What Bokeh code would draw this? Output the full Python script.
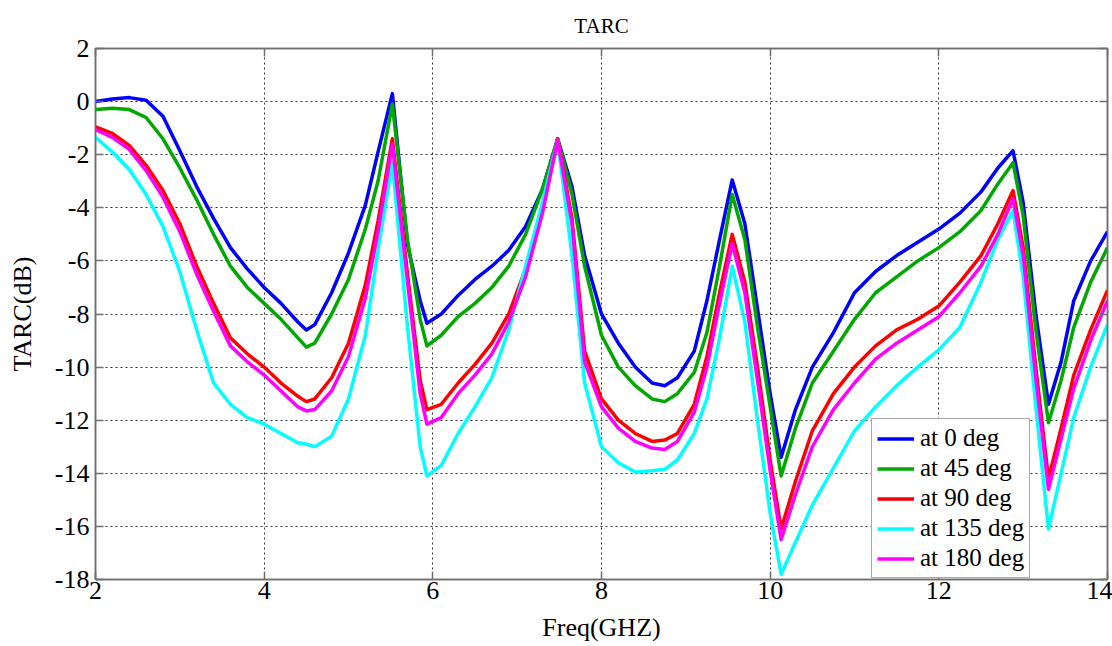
from bokeh.plotting import figure
from bokeh.models import Range1d, FixedTicker, LinearAxis, Legend, LegendItem, CustomJSTickFormatter
from bokeh.embed import file_html
from bokeh.resources import INLINE

freq = [2.0, 2.2, 2.4, 2.6, 2.8, 3.0, 3.2, 3.4, 3.6, 3.8, 4.0, 4.2, 4.4, 4.5, 4.6, 4.8, 5.0, 5.2, 5.35, 5.52,
        5.7, 5.85, 5.93, 6.1, 6.3, 6.5, 6.7, 6.9, 7.1, 7.3, 7.48, 7.65, 7.8, 8.0, 8.2, 8.4, 8.6, 8.75, 8.9, 9.1,
        9.25, 9.4, 9.55, 9.7, 9.85, 10.0, 10.13, 10.3, 10.5, 10.75, 11.0, 11.25, 11.5, 11.75, 12.0, 12.25, 12.5,
        12.7, 12.88, 13.0, 13.15, 13.3, 13.45, 13.6, 13.8, 14.0]

tarc_0 = [0.0, 0.1, 0.15, 0.05, -0.55, -1.85, -3.2, -4.4, -5.5, -6.3, -7.0, -7.6, -8.3, -8.6, -8.4, -7.2, -5.7, -3.9, -1.9, 0.3,
          -5.4, -7.5, -8.35, -8.0, -7.3, -6.7, -6.2, -5.6, -4.7, -3.3, -1.4, -3.2, -5.8, -8.0, -9.1, -10.0, -10.6, -10.7, -10.4, -9.4,
          -7.5, -5.2, -2.95, -4.6, -7.8, -11.0, -13.4, -11.6, -10.0, -8.7, -7.2, -6.4, -5.8, -5.3, -4.8, -4.2, -3.4,
          -2.5, -1.85, -3.8, -8.0, -11.4, -9.8, -7.5, -6.0, -4.9]

tarc_45 = [-0.3, -0.25, -0.3, -0.6, -1.4, -2.5, -3.7, -5.0, -6.2, -7.0, -7.6, -8.2, -8.9, -9.25, -9.1, -8.0, -6.7, -4.8, -3.0, -0.1,
           -5.2, -8.2, -9.2, -8.8, -8.1, -7.6, -7.0, -6.2, -5.0, -3.3, -1.4, -3.5, -6.2, -8.8, -10.0, -10.7, -11.2, -11.3, -11.0, -10.2,
           -8.7, -6.2, -3.5, -5.2, -8.5, -11.5, -14.1, -12.3, -10.6, -9.4, -8.2, -7.2, -6.6, -6.0, -5.5, -4.9, -4.1,
           -3.1, -2.3, -4.3, -8.6, -12.1, -10.5, -8.5, -6.8, -5.5]

tarc_90 = [-0.95, -1.2, -1.65, -2.4, -3.35, -4.6, -6.2, -7.6, -8.9, -9.5, -10.0, -10.6, -11.1, -11.3, -11.2, -10.4, -9.1, -6.9, -4.5, -1.4,
           -6.5, -10.5, -11.6, -11.4, -10.6, -9.9, -9.1, -8.0, -6.3, -4.0, -1.4, -4.4, -9.4, -11.2, -12.0, -12.5, -12.8, -12.75, -12.5, -11.4,
           -9.6, -7.2, -5.0, -6.8, -10.0, -13.5, -16.1, -14.3, -12.4, -11.0, -10.0, -9.2, -8.6, -8.2, -7.7, -6.8, -5.8,
           -4.6, -3.35, -5.5, -10.0, -14.2, -12.3, -10.3, -8.6, -7.1]

tarc_135 = [-1.35, -1.9, -2.55, -3.5, -4.7, -6.4, -8.6, -10.6, -11.4, -11.9, -12.15, -12.5, -12.85, -12.9, -13.0, -12.6, -11.2, -8.8, -5.6, -2.3,
            -8.5, -13.0, -14.1, -13.7, -12.5, -11.5, -10.4, -8.6, -6.2, -3.8, -1.45, -5.8, -10.6, -13.0, -13.6, -13.95, -13.9, -13.85, -13.5, -12.5,
            -11.2, -8.9, -6.2, -8.3, -12.0, -15.5, -17.8, -16.6, -15.2, -13.8, -12.4, -11.5, -10.7, -10.0, -9.35, -8.5, -6.8,
            -5.2, -4.1, -6.6, -11.5, -16.1, -14.0, -11.9, -10.0, -8.4]

tarc_180 = [-1.05, -1.35, -1.8, -2.6, -3.6, -4.9, -6.5, -7.9, -9.2, -9.8, -10.3, -10.9, -11.5, -11.65, -11.6, -10.9, -9.6, -7.4, -4.9, -1.6,
            -6.8, -11.0, -12.15, -11.9, -11.0, -10.3, -9.5, -8.3, -6.6, -4.2, -1.45, -4.6, -9.8, -11.5, -12.3, -12.8, -13.05, -13.1, -12.8, -11.7,
            -10.0, -7.6, -5.35, -7.2, -10.5, -13.9, -16.5, -14.8, -13.0, -11.6, -10.6, -9.7, -9.1, -8.6, -8.1, -7.2, -6.2,
            -5.0, -3.65, -5.8, -10.4, -14.6, -12.7, -10.8, -9.0, -7.5]

series_labels = ["at 0 deg", "at 45 deg", "at 90 deg", "at 135 deg", "at 180 deg"]
series_values = [tarc_0, tarc_45, tarc_90, tarc_135, tarc_180]
series_colors = ["#0000ff", "#00a800", "#ff0000", "#00ffff", "#ff00ff"]

x_ticks = [2, 4, 6, 8, 10, 12, 14]
y_ticks = [-18, -16, -14, -12, -10, -8, -6, -4, -2, 0, 2]

FONT = "'Liberation Serif', serif"
AX = "#6e6e6e"

p = figure(width=1112, height=646, x_range=Range1d(2, 14), y_range=Range1d(-18, 2),
           output_backend="svg", toolbar_location=None,
           min_border_left=95, min_border_right=5, min_border_top=48, min_border_bottom=67)
p.background_fill_color = "white"
p.border_fill_color = "white"
p.outline_line_color = AX
p.outline_line_width = 1.5

p.title.text = "TARC"
p.title.align = "center"
p.title.text_font = FONT
p.title.text_font_size = "21px"
p.title.text_font_style = "normal"
p.title.text_color = "black"
p.title.standoff = 22

plain = CustomJSTickFormatter(code="return tick.toString()")
for ax in (p.xaxis[0], p.yaxis[0]):
    ax.major_label_text_font = FONT
    ax.major_label_text_font_size = "26px"
    ax.major_label_text_color = "black"
    ax.axis_label_text_font = FONT
    ax.axis_label_text_font_size = "26px"
    ax.axis_label_text_font_style = "normal"
    ax.axis_label_text_color = "black"
    ax.axis_line_color = AX
    ax.axis_line_width = 1.5
    ax.major_tick_in = 8
    ax.major_tick_out = 0
    ax.major_tick_line_color = AX
    ax.major_tick_line_width = 1.5
    ax.minor_tick_line_color = None
    ax.formatter = plain

p.xaxis[0].ticker = FixedTicker(ticks=x_ticks)
p.yaxis[0].ticker = FixedTicker(ticks=y_ticks)
p.xaxis[0].axis_label = "Freq(GHZ)"
p.yaxis[0].axis_label = "TARC(dB)"
p.xaxis[0].major_label_standoff = 2
p.yaxis[0].major_label_standoff = 6
p.xaxis[0].axis_label_standoff = 11
p.yaxis[0].axis_label_standoff = 15

blank = CustomJSTickFormatter(code="return ''")
for ticks, side in ((y_ticks, "right"), (x_ticks, "above")):
    a = LinearAxis(ticker=FixedTicker(ticks=ticks), formatter=blank)
    a.axis_line_color = AX
    a.axis_line_width = 1.5
    a.major_tick_in = 8
    a.major_tick_out = 0
    a.major_tick_line_color = AX
    a.major_tick_line_width = 1.5
    a.minor_tick_line_color = None
    a.major_label_standoff = 0
    p.add_layout(a, side)

for g in (p.xgrid[0], p.ygrid[0]):
    g.grid_line_color = "#333333"
    g.grid_line_dash = "2 3"
    g.grid_line_width = 1
    g.grid_line_alpha = 1
p.xgrid[0].ticker = FixedTicker(ticks=x_ticks)
p.ygrid[0].ticker = FixedTicker(ticks=y_ticks)

items = []
for label, vals, color in zip(series_labels, series_values, series_colors):
    r = p.line(freq, vals, line_color=color, line_width=3.5, line_join="round")
    items.append(LegendItem(label=label, renderers=[r]))

legend = Legend(items=items, location=(776, 1))
legend.label_text_font = FONT
legend.label_text_font_size = "25px"
legend.label_text_color = "black"
legend.glyph_width = 37
legend.glyph_height = 25
legend.label_height = 25
legend.label_standoff = 6
legend.spacing = 2
legend.padding = 5
legend.margin = 0
legend.border_line_color = "#555555"
legend.border_line_width = 1
legend.background_fill_alpha = 1
p.add_layout(legend)

open("out.html", "w").write(file_html(p, INLINE))
